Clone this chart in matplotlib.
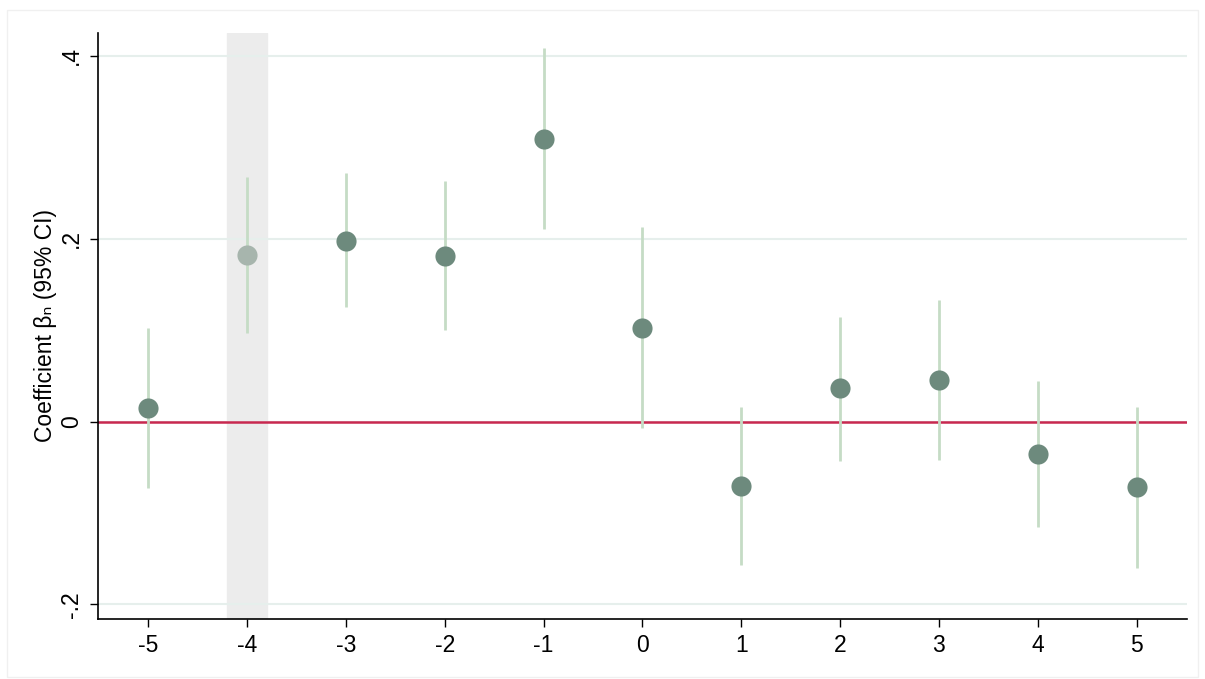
import matplotlib
matplotlib.use("Agg")
import matplotlib.pyplot as plt
from matplotlib.patches import Rectangle

plt.rcParams['font.family'] = ['Liberation Sans', 'DejaVu Sans']

# event-time coefficients with 95% CI
periods = [-5, -4, -3, -2, -1, 0, 1, 2, 3, 4, 5]
coef = [0.015, 0.182, 0.198, 0.181, 0.309, 0.102, -0.071, 0.037, 0.045, -0.036, -0.072]
ci_low = [-0.073, 0.097, 0.125, 0.100, 0.211, -0.007, -0.157, -0.043, -0.042, -0.115, -0.160]
ci_high = [0.102, 0.268, 0.272, 0.263, 0.409, 0.213, 0.016, 0.114, 0.133, 0.044, 0.016]
ref_period = -4
yticks = [-0.2, 0, 0.2, 0.4]
ytick_labels = ["-.2", "0", ".2", ".4"]

fig = plt.figure(figsize=(12.05, 6.79), dpi=100)
fig.patches.append(Rectangle((0.006, 0.003), 0.988, 0.982, transform=fig.transFigure,
                             fill=False, edgecolor="#f0f0f0", linewidth=1))
ax = fig.add_axes([0.0813, 0.0884, 0.9037, 0.863])

# shaded reference period
ax.axvspan(ref_period - 0.2, ref_period + 0.2, color="#ececec", zorder=0)

for y in yticks:
    ax.axhline(y, color="#e6efec", linewidth=1.5, zorder=0.5)
ax.axhline(0, color="#c8284f", linewidth=1.8, zorder=1)

for p, c, lo, hi in zip(periods, coef, ci_low, ci_high):
    ax.vlines(p, lo, hi, color="#c5dcc5", linewidth=2, zorder=2)
    mc = "#a7b5ad" if p == ref_period else "#6d8a7d"
    ax.plot(p, c, "o", color=mc, markersize=14.5, markeredgewidth=0, zorder=3)

ax.set_xlim(-5.51, 5.51)
ax.set_ylim(-0.216, 0.425)
ax.set_xticks(periods)
ax.set_xticklabels([str(p) for p in periods], fontsize=16.5)
ax.set_yticks(yticks)
ax.set_yticklabels(ytick_labels, fontsize=16.5, rotation=90, va="center")
ax.tick_params(axis="both", direction="out", length=6, width=1, color="black", pad=5)
ax.set_ylabel("Coefficient βₙ (95% CI)", fontsize=16.5, labelpad=2)

for s in ["top", "right"]:
    ax.spines[s].set_visible(False)
ax.spines["left"].set_linewidth(1.2)
ax.spines["bottom"].set_linewidth(1.2)

fig.savefig("out.png", dpi=100)
